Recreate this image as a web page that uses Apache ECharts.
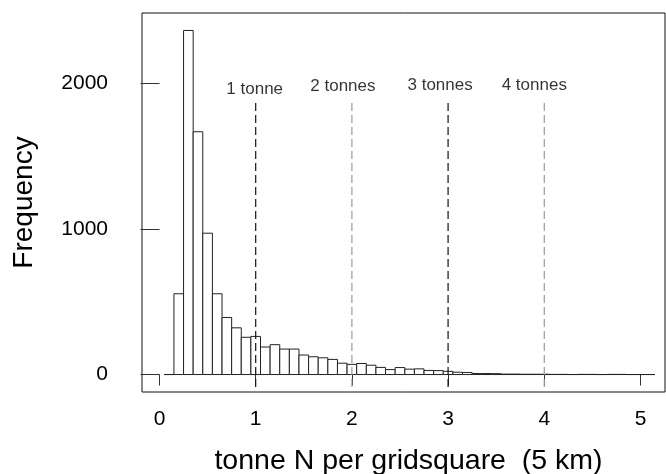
<!DOCTYPE html>
<html>
  <head>
    <meta charset="utf-8" />
    <title>Histogram</title>
    <script src="https://cdn.jsdelivr.net/npm/echarts@6.0.0/dist/echarts.min.js"></script>
  </head>
  <body style="margin: 0">
    <div id="main" style="width: 666px; height: 474px"></div>
  </body>

  <script>
    var myChart = echarts.init(document.getElementById("main"));

    // histogram bins (centre of each 0.1 wide bin) and counts
    var binWidth = 0.1;
    var binCenters = [
      0.1, 0.2, 0.3, 0.4, 0.5, 0.6, 0.7, 0.8, 0.9, 1.0,
      1.1, 1.2, 1.3, 1.4, 1.5, 1.6, 1.7, 1.8, 1.9, 2.0,
      2.1, 2.2, 2.3, 2.4, 2.5, 2.6, 2.7, 2.8, 2.9, 3.0,
      3.1, 3.2, 3.3, 3.4, 3.5, 3.6, 3.7, 3.8, 3.9, 4.0,
      4.1, 4.2, 4.3, 4.4, 4.5, 4.6, 4.7, 4.8, 4.9, 5.0, 5.1
    ];
    var counts = [
      0, 555, 2364, 1668, 971, 555, 392, 321, 256, 262,
      189, 205, 175, 175, 134, 122, 115, 104, 78, 70,
      76, 64, 49, 34, 48, 37, 39, 28, 27, 22,
      16, 14, 7, 7, 6, 3, 3, 2, 2, 2,
      1, 1, 0, 1, 1, 0, 1, 1, 0, 0, 0
    ];

    // reference lines
    var thresholds = [1, 2, 3, 4];
    var thresholdLabels = ["1 tonne", "2 tonnes", "3 tonnes", "4 tonnes"];

    var xTicks = [0, 1, 2, 3, 4, 5];
    var yTicks = [0, 1000, 2000];

    var lineColors = ["#111", "#999", "#111", "#999"];
    var labelOffsets = [[-1, 2], [-9, -1], [-8, -2], [-10, -2]];

    var histData = binCenters.map(function (c, i) {
      return [c, counts[i]];
    });

    var series = [
      {
        name: "hist",
        type: "custom",
        data: histData,
        renderItem: function (params, api) {
          var c = api.value(0);
          var n = api.value(1);
          var p0 = api.coord([c - binWidth / 2, n]);
          var p1 = api.coord([c + binWidth / 2, 0]);
          return {
            type: "rect",
            shape: {
              x: p0[0],
              y: p0[1],
              width: p1[0] - p0[0],
              height: p1[1] - p0[1],
            },
            style: { fill: "#fff", stroke: "#222", lineWidth: 1 },
          };
        },
      },
    ];

    thresholds.forEach(function (t, i) {
      series.push({
        type: "line",
        data: [
          [t, -86],
          [t, 1873],
        ],
        symbol: "none",
        lineStyle: { color: lineColors[i], width: 1.2, type: [8, 4] },
        z: 3,
      });
    });

    series.push({
      type: "scatter",
      symbolSize: 0,
      data: thresholds.map(function (t, i) {
        return {
          value: [t, 1873],
          name: thresholdLabels[i],
          label: { offset: labelOffsets[i] },
        };
      }),
      label: {
        show: true,
        position: "top",
        distance: 6,
        formatter: "{b}",
        color: "#000",
        fontSize: 17,
        fontFamily: "Liberation Sans",
      },
    });

    option = {
      backgroundColor: "#fff",
      animation: false,
      tooltip: { show: false },
      grid: {
        left: 142,
        top: 13,
        right: 1,
        bottom: 82,
        show: true,
        borderColor: "#111",
        borderWidth: 1,
        outerBoundsMode: "none",
      },
      xAxis: {
        type: "value",
        min: -0.182,
        max: 5.255,
        name: "tonne N per gridsquare  (5 km)",
        nameLocation: "middle",
        nameGap: 55,
        nameTextStyle: {
          fontSize: 28.5,
          color: "#000",
          fontFamily: "Liberation Sans",
          padding: [0, 0, 0, 10],
        },
        axisLine: { show: false },
        splitLine: { show: false },
        axisTick: {
          customValues: xTicks,
          length: 11,
          lineStyle: { color: "#333" },
        },
        axisLabel: {
          customValues: xTicks,
          margin: 17,
          fontSize: 21,
          color: "#000",
          fontFamily: "Liberation Sans",
        },
      },
      yAxis: {
        type: "value",
        min: -120,
        max: 2484,
        name: "Frequency",
        nameLocation: "middle",
        nameGap: 104,
        nameTextStyle: {
          fontSize: 28,
          color: "#000",
          fontFamily: "Liberation Sans",
        },
        axisLine: { show: false },
        splitLine: { show: false },
        axisTick: {
          customValues: yTicks,
          length: 19,
          lineStyle: { color: "#333" },
        },
        axisLabel: {
          customValues: yTicks,
          margin: 34,
          fontSize: 21,
          color: "#000",
          fontFamily: "Liberation Sans",
          formatter: function (v) {
            return String(v);
          },
        },
      },
      series: series,
    };

    myChart.setOption(option);
  </script>
</html>
